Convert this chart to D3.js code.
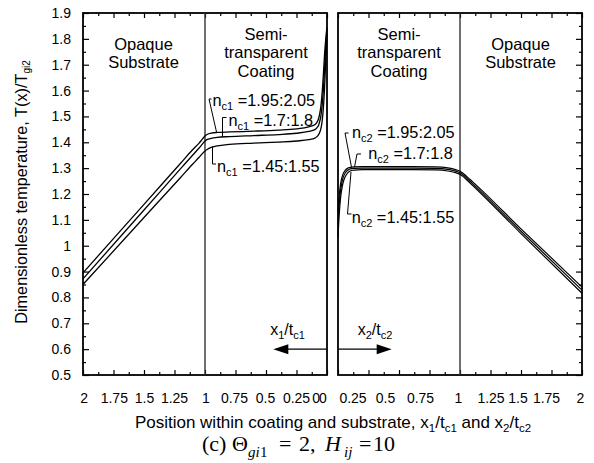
<!DOCTYPE html>
<html><head><meta charset="utf-8">
<script src="https://cdn.jsdelivr.net/npm/d3@7"></script>
<style>
body{margin:0;background:#fff}
svg{display:block}
text.sans{font-family:"Liberation Sans",Arial,sans-serif;fill:#000}
text.serif{font-family:"Liberation Serif","Times New Roman",serif;fill:#000}
</style>
</head><body>
<svg id="c" width="594" height="463"></svg>
<script>
// ---------------- DATA ----------------
const yTickValues = [0.5,0.6,0.7,0.8,0.9,1.0,1.1,1.2,1.3,1.4,1.5,1.6,1.7,1.8,1.9];
const yTickLabels = ["0.5","0.6","0.7","0.8","0.9","1","1.1","1.2","1.3","1.4","1.5","1.6","1.7","1.8","1.9"];
const xTickValues = [0,0.25,0.5,0.75,1,1.25,1.5,1.75,2];
const xTickLabels = ["0","0.25","0.5","0.75","1","1.25","1.5","1.75","2"];

// Left panel: position x1/tc1 (coating 0..1, substrate 1..2)
const xLeft = [2,1.5,1.2,1.1,1.05,1.02,1,0.98,0.95,0.9,0.8,0.6,0.4,0.25,0.15,0.1,0.085,0.07,0.06,0.05,0.04,0.03,0.02,0.01,0.004,0];
const left_n195 = [0.895,1.160,1.319,1.372,1.396,1.413,1.424,1.431,1.435,1.438,1.440,1.443,1.447,1.452,1.460,1.468,1.475,1.490,1.510,1.540,1.590,1.660,1.740,1.800,1.830,1.845];
const left_n170 = [0.872,1.138,1.298,1.351,1.377,1.394,1.405,1.411,1.415,1.419,1.422,1.426,1.430,1.435,1.442,1.449,1.455,1.465,1.480,1.502,1.542,1.602,1.682,1.770,1.810,1.835];
const left_n145 = [0.850,1.109,1.264,1.316,1.341,1.357,1.366,1.373,1.380,1.386,1.392,1.397,1.401,1.405,1.410,1.416,1.421,1.429,1.438,1.453,1.481,1.531,1.610,1.720,1.780,1.820];

// Right panel: position x2/tc2
const xRight = [0,0.005,0.01,0.02,0.03,0.04,0.06,0.08,0.1,0.13,0.2,0.4,0.6,0.8,0.9,0.95,0.98,1,1.02,1.05,1.1,1.5,2];
const right_n195 = [1.130,1.165,1.195,1.235,1.260,1.276,1.292,1.300,1.303,1.305,1.306,1.306,1.306,1.305,1.301,1.296,1.292,1.288,1.282,1.270,1.249,1.065,0.840];
const right_n170 = [1.080,1.125,1.160,1.210,1.240,1.261,1.282,1.292,1.297,1.299,1.300,1.300,1.300,1.299,1.295,1.290,1.286,1.282,1.276,1.264,1.242,1.056,0.828];
const right_n145 = [1.030,1.080,1.120,1.180,1.215,1.240,1.268,1.282,1.289,1.292,1.294,1.294,1.294,1.293,1.289,1.284,1.280,1.276,1.270,1.257,1.235,1.047,0.816];

const leftLabels  = [{sub:"c1", val:" =1.95:2.05"},{sub:"c1", val:" =1.7:1.8"},{sub:"c1", val:" =1.45:1.55"}];
const rightLabels = [{sub:"c2", val:" =1.95:2.05"},{sub:"c2", val:" =1.7:1.8"},{sub:"c2", val:" =1.45:1.55"}];
// label anchor (data units) and leader points (data units)
const leftLabelPos  = [[0.9385,1.540],[0.807,1.463],[0.9016,1.285]];
const leftLeaders   = [[[0.9467,1.5674],[0.9672,1.5674],[0.9057,1.4398]],
                       [[0.8238,1.4959],[0.8566,1.4959],[0.8566,1.4205]],
                       [[0.9385,1.384],[0.9385,1.316],[0.9098,1.316]]];
const rightLabelPos = [[0.1148,1.4147],[0.248,1.3354],[0.112,1.0879]];
const rightLeaders  = [[[0.0861,1.4359],[0.0574,1.4359],[0.1107,1.3036]],
                       [[0.1885,1.3547],[0.1557,1.3547],[0.1352,1.3036]],
                       [[0.1066,1.285],[0.0779,1.1227],[0.1107,1.1227]]];

const arrowY = 0.6, arrowTip = 0.44, arrowLabelY = 0.655;

// ---------------- LAYOUT ----------------
const svg = d3.select("#c");
const yTop = 13, yBot = 375;
const y  = d3.scaleLinear().domain([0.5,1.9]).range([yBot,yTop]);
const xL = d3.scaleLinear().domain([2,0]).range([83,327]);
const xR = d3.scaleLinear().domain([0,2]).range([338,582]);
const mids = a => a.slice(1).map((v,i)=>(v+a[i])/2);
const yMinor = mids(yTickValues), xMinor = mids(xTickValues);
// visual nudges of the hand-placed x labels (px)
const nudgeL = [-11.3,-0.5,-1,-1.5,0.5,-0.5,0,0.3,0.7];
const nudgeR = [-15.7,-16,-14,-9.5,-2,0,-3.5,-5.5,-2];

function styleAxis(g){ g.select(".domain").remove(); g.selectAll("line").attr("stroke","#000").attr("stroke-width",1.2); }

function panelTicks(xs, hasLeftY, hasRightY){
  svg.append("g").attr("transform",`translate(0,${yBot})`)
    .call(d3.axisBottom(xs).tickValues(xTickValues).tickSizeInner(-5).tickSizeOuter(0).tickFormat("")).call(styleAxis);
  svg.append("g").attr("transform",`translate(0,${yBot})`)
    .call(d3.axisBottom(xs).tickValues(xMinor).tickSizeInner(-3).tickSizeOuter(0).tickFormat("")).call(styleAxis);
  svg.append("g").attr("transform",`translate(0,${yTop})`)
    .call(d3.axisTop(xs).tickValues(xTickValues).tickSizeInner(-5).tickSizeOuter(0).tickFormat("")).call(styleAxis);
  svg.append("g").attr("transform",`translate(0,${yTop})`)
    .call(d3.axisTop(xs).tickValues(xMinor).tickSizeInner(-3).tickSizeOuter(0).tickFormat("")).call(styleAxis);
  if(hasLeftY){
    const x0 = xs.range()[0];
    svg.append("g").attr("transform",`translate(${x0},0)`)
      .call(d3.axisLeft(y).tickValues(yTickValues).tickSizeInner(-6).tickSizeOuter(0).tickFormat("")).call(styleAxis);
    svg.append("g").attr("transform",`translate(${x0},0)`)
      .call(d3.axisLeft(y).tickValues(yMinor).tickSizeInner(-3).tickSizeOuter(0).tickFormat("")).call(styleAxis);
  }
  if(hasRightY){
    const x1 = xs.range()[1];
    svg.append("g").attr("transform",`translate(${x1},0)`)
      .call(d3.axisRight(y).tickValues(yTickValues).tickSizeInner(-6).tickSizeOuter(0).tickFormat("")).call(styleAxis);
    svg.append("g").attr("transform",`translate(${x1},0)`)
      .call(d3.axisRight(y).tickValues(yMinor).tickSizeInner(-3).tickSizeOuter(0).tickFormat("")).call(styleAxis);
  }
}
panelTicks(xL,true,false);
panelTicks(xR,false,true);

function xLabels(xs, nudge){
  const g = svg.append("g").attr("transform",`translate(0,${yBot})`)
    .call(d3.axisBottom(xs).tickValues(xTickValues).tickSize(0).tickPadding(18)
      .tickFormat((d,i)=>xTickLabels[i]));
  g.select(".domain").remove();
  g.selectAll("text").attr("class","sans").attr("font-size",14).attr("dx",(d,i)=>nudge[i]);
}
xLabels(xL, nudgeL); xLabels(xR, nudgeR);

{
  const g = svg.append("g").attr("transform",`translate(${xL.range()[0]},0)`)
    .call(d3.axisLeft(y).tickValues(yTickValues).tickSize(0).tickPadding(12)
      .tickFormat((d,i)=>yTickLabels[i]));
  g.select(".domain").remove();
  g.selectAll("text").attr("class","sans").attr("font-size",14);
}

[xL,xR].forEach(xs=>{
  const [a,b] = xs.range();
  svg.append("rect").attr("x",Math.min(a,b)).attr("y",yTop).attr("width",Math.abs(b-a)).attr("height",yBot-yTop)
    .attr("fill","none").attr("stroke","#000").attr("stroke-width",1.8);
  svg.append("line").attr("x1",xs(1)).attr("x2",xs(1)).attr("y1",yTop).attr("y2",yBot)
    .attr("stroke","#333").attr("stroke-width",1.4);
});

const lineL = d3.line().x(d=>xL(d[0])).y(d=>y(d[1])).curve(d3.curveMonotoneX);
const lineR = d3.line().x(d=>xR(d[0])).y(d=>y(d[1])).curve(d3.curveMonotoneX);
[left_n195,left_n170,left_n145].forEach(s=>{
  svg.append("path").attr("d",lineL(xLeft.map((x,i)=>[x,s[i]]))).attr("fill","none").attr("stroke","#000").attr("stroke-width",1.3);
});
[right_n195,right_n170,right_n145].forEach(s=>{
  svg.append("path").attr("d",lineR(xRight.map((x,i)=>[x,s[i]]))).attr("fill","none").attr("stroke","#000").attr("stroke-width",1.2);
});

const leader = (xs)=>d3.line().x(d=>xs(d[0])).y(d=>y(d[1]));
function nLabel(xs, pos, lab){
  const t = svg.append("text").attr("class","sans").attr("x",xs(pos[0])).attr("y",y(pos[1])).attr("font-size",16.3);
  t.append("tspan").text("n");
  t.append("tspan").attr("font-size",11).attr("dy",4).text(lab.sub);
  t.append("tspan").attr("dy",-4).text(lab.val);
}
leftLeaders.forEach(p=>svg.append("path").attr("d",leader(xL)(p)).attr("fill","none").attr("stroke","#000").attr("stroke-width",1));
rightLeaders.forEach(p=>svg.append("path").attr("d",leader(xR)(p)).attr("fill","none").attr("stroke","#000").attr("stroke-width",1));
leftLabels.forEach((l,i)=>nLabel(xL,leftLabelPos[i],l));
rightLabels.forEach((l,i)=>nLabel(xR,rightLabelPos[i],l));

function region(xc, lines, baseline){
  lines.forEach((s,i)=>svg.append("text").attr("class","sans").attr("x",xc).attr("y",baseline+i*18.3)
    .attr("text-anchor","middle").attr("font-size",16.5).text(s));
}
region(xL(1.5)-0.5,["Opaque","Substrate"],50);
region(xL(0.5),["Semi-","transparent","Coating"],40);
region(xR(0.5),["Semi-","transparent","Coating"],40);
region(xR(1.5)-0.5,["Opaque","Substrate"],50);

function arrow(xs, dir){
  const x0 = xs(0), xt = xs(arrowTip), yy = y(arrowY);
  svg.append("line").attr("x1",x0).attr("x2",xt - dir*4).attr("y1",yy).attr("y2",yy).attr("stroke","#000").attr("stroke-width",1.3);
  svg.append("path").attr("d",`M${xt},${yy} L${xt-dir*15},${yy-5} L${xt-dir*15},${yy+5} Z`).attr("fill","#000");
}
arrow(xL,-1); arrow(xR,1);
function fracLabel(xs, xc, n){
  const t = svg.append("text").attr("class","sans").attr("x",xs(xc)).attr("y",y(arrowLabelY)).attr("text-anchor","middle").attr("font-size",16);
  t.append("tspan").text("x");
  t.append("tspan").attr("font-size",11).attr("dy",4).text(n);
  t.append("tspan").attr("dy",-4).text("/t");
  t.append("tspan").attr("font-size",11).attr("dy",4).text("c"+n);
}
fracLabel(xL,0.324,"1"); fracLabel(xR,0.303,"2");

{
  const t = svg.append("text").attr("class","sans").attr("transform",`translate(27,${(yTop+yBot)/2 - 2}) rotate(-90)`)
    .attr("text-anchor","middle").attr("font-size",16.3);
  t.append("tspan").text("Dimensionless temperature, T(x)/T");
  t.append("tspan").attr("font-size",10).attr("dy",3).text("gi2");
}
{
  const t = svg.append("text").attr("class","sans").attr("x",333).attr("y",428).attr("text-anchor","middle").attr("font-size",17);
  const parts = [["Position within coating and substrate, x",0],["1",1],["/t",0],["c1",1],[" and x",0],["2",1],["/t",0],["c2",1]];
  let sub=false;
  parts.forEach(([s,isSub])=>{
    const ts = t.append("tspan").text(s);
    if(isSub){ ts.attr("font-size",11.5); if(!sub) ts.attr("dy",4); sub=true; }
    else { if(sub) ts.attr("dy",-4); sub=false; }
  });
}
{
  const pieces = [
    {s:"(c)",x:202,y:451,size:22},
    {s:"Θ",x:232,y:451,size:22},
    {s:"gi",x:248,y:457,size:15,it:true},
    {s:"1",x:260,y:457,size:15},
    {s:"=",x:279,y:451,size:22},
    {s:"2,",x:299,y:451,size:22},
    {s:"H",x:325,y:451,size:22,it:true},
    {s:"ij",x:344,y:457,size:15,it:true},
    {s:"=",x:359,y:451,size:22},
    {s:"10",x:373,y:451,size:22}
  ];
  pieces.forEach(p=>svg.append("text").attr("class","serif").attr("x",p.x).attr("y",p.y).attr("font-size",p.size)
    .attr("font-style",p.it?"italic":"normal").text(p.s));
}
</script>
</body></html>
